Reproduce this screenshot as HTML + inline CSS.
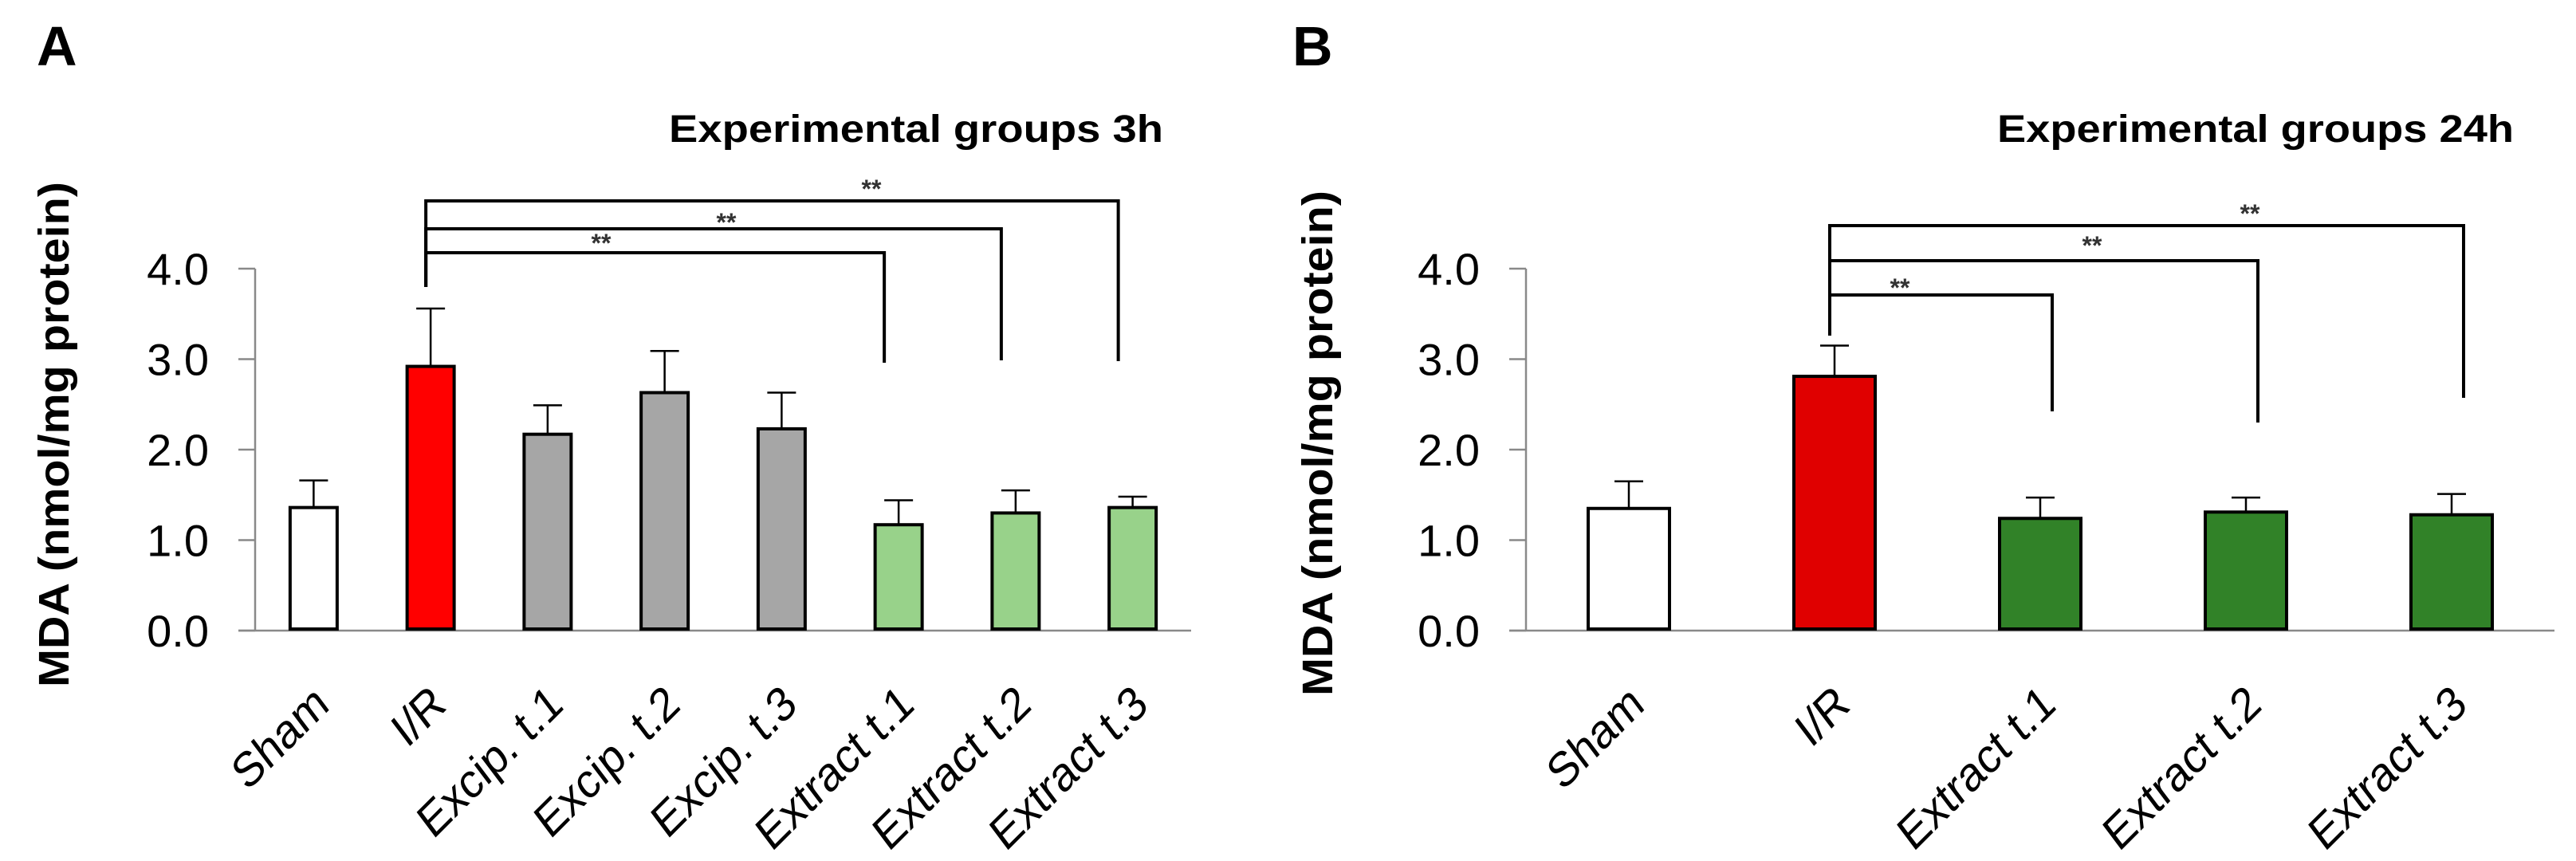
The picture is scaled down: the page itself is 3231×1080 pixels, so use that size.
<!DOCTYPE html>
<html><head><meta charset="utf-8">
<style>
html,body{margin:0;padding:0;background:#fff;}
svg{display:block;}
text{font-family:"Liberation Sans",Arial,sans-serif;}
</style></head>
<body>
<svg id="fig" width="3231" height="1080" viewBox="0 0 3231 1080" xmlns="http://www.w3.org/2000/svg">
<rect width="3231" height="1080" fill="#fff"/>
</svg>
<script>
// Panel A data
const catsA = ["Sham","I/R","Excip. t.1","Excip. t.2","Excip. t.3","Extract t.1","Extract t.2","Extract t.3"];
const valsA = [1.36,2.92,2.17,2.63,2.23,1.17,1.30,1.36];
const errsA = [0.30,0.64,0.32,0.46,0.40,0.27,0.25,0.12];
const colsA = ["#ffffff","#ff0000","#a6a6a6","#a6a6a6","#a6a6a6","#98d28a","#98d28a","#98d28a"];
// Panel B data
const catsB = ["Sham","I/R","Extract t.1","Extract t.2","Extract t.3"];
const valsB = [1.35,2.81,1.24,1.31,1.28];
const errsB = [0.30,0.34,0.23,0.16,0.23];
const colsB = ["#ffffff","#e00000","#318228","#318228","#318228"];
const ticks = [0,1,2,3,4];
const tickLabels = ["0.0","1.0","2.0","3.0","4.0"];
// significance brackets: [from index, to index]
const sigA = [[1,7],[1,6],[1,5]];
const sigB = [[1,4],[1,3],[1,2]];

const NS="http://www.w3.org/2000/svg";
const svg=document.getElementById('fig');
function mk(tag,attrs,parent){const e=document.createElementNS(NS,tag);for(const k in attrs)e.setAttribute(k,attrs[k]);(parent||svg).appendChild(e);return e;}

function panel(cfg){
  const g=mk('g',{});
  
  
  const n=cfg.cats.length, bw=(cfg.x1-cfg.x0)/n;
  const y=v=>cfg.y0-(v*cfg.unit);
  const xc=i=>cfg.x0+bw*(i+0.5);
  const L=mk('text',{x:cfg.letterX,y:82,'font-size':70,'font-weight':'bold',fill:'#000'},g);
  L.textContent=cfg.letter;
  
  
  const T=mk('text',{x:cfg.titleX,y:178,'font-size':48,'font-weight':'bold',fill:'#000',textLength:cfg.titleW,lengthAdjust:'spacingAndGlyphs'},g);
  T.textContent=cfg.title;
  
  
  const yt=mk('text',{x:0,y:0,'font-size':54,'font-weight':'bold','text-anchor':'middle',fill:'#000',transform:`translate(${cfg.ytX},${cfg.ytY}) rotate(-90)`,textLength:cfg.ytW,lengthAdjust:'spacingAndGlyphs'},g);
  yt.textContent="MDA (nmol/mg protein)";
  
  
  const ax=mk('line',{x1:cfg.x0,y1:y(4),x2:cfg.x0,y2:cfg.y0,stroke:'#898989','stroke-width':2.5},g);
  
  
  const xx=mk('line',{x1:cfg.x0-21,y1:cfg.y0,x2:cfg.x1,y2:cfg.y0,stroke:'#898989','stroke-width':2.5},g);
  
  
  ticks.forEach((t,i)=>{
    const tl=mk('line',{x1:cfg.x0-21,y1:y(t),x2:cfg.x0,y2:y(t),stroke:'#898989','stroke-width':2.5},g);
    
    
    const tx=mk('text',{x:cfg.x0-58,y:y(t)+20,'font-size':56,'text-anchor':'end',fill:'#000'},g);
    tx.textContent=tickLabels[i];
    
    
  });
  cfg.cats.forEach((c,i)=>{
    const cx=xc(i), top=y(cfg.vals[i]);
    const e=mk('line',{x1:cx,y1:top,x2:cx,y2:y(cfg.vals[i]+cfg.errs[i]),stroke:'#000','stroke-width':2.5},g);
    
    
    const cap=mk('line',{x1:cx-18,y1:y(cfg.vals[i]+cfg.errs[i]),x2:cx+18,y2:y(cfg.vals[i]+cfg.errs[i]),stroke:'#000','stroke-width':2.5},g);
    
    
    const b=mk('rect',{x:cx-cfg.barW/2,y:top,width:cfg.barW,height:cfg.y0-2-top,fill:cfg.cols[i],stroke:'#000','stroke-width':4},g);
    
    
    const lx=cx+22, ly=888;
    const lt=mk('text',{x:0,y:0,'font-size':57,'text-anchor':'end',fill:'#000',transform:`translate(${lx},${ly}) rotate(-45) skewX(-8)`},g);
    lt.textContent=c;
    
    
  });
  cfg.sig.forEach((s,k)=>{
    const by=cfg.brY[k], x1=xc(s[0])-6, x2=xc(s[1])-cfg.brOff;
    const p=mk('path',{d:`M${x1},${cfg.brLeftBottom} L${x1},${by} L${x2},${by} L${x2},${cfg.brBottom[k]}`,fill:'none',stroke:'#000','stroke-width':4},g);
    
    
    const st=mk('text',{x:cfg.starX[k],y:cfg.starY[k]+16,'font-size':32,'font-weight':'bold','text-anchor':'middle',fill:'#333'},g);
    st.textContent="**";
    
    
  });
}

panel({name:'panel-a',letter:'A',letterX:46,title:'Experimental groups 3h',titleX:839,titleW:620,
  ytX:86,ytY:545,ytW:634,x0:320,x1:1494,y0:791,unit:113.5,barW:59,
  cats:catsA,vals:valsA,errs:errsA,cols:colsA,sig:sigA,
  brY:[252,287,317],brBottom:[453,452,455],brLeftBottom:360,brOff:18,
  starX:[1093,911,754],starY:[232,274,300]});
panel({name:'panel-b',letter:'B',letterX:1621,title:'Experimental groups 24h',titleX:2505,titleW:648,
  ytX:1671,ytY:556,ytW:634,x0:1914,x1:3204,y0:791,unit:113.5,barW:102,
  cats:catsB,vals:valsB,errs:errsB,cols:colsB,sig:sigB,
  brY:[283,327,370],brBottom:[499,530,516],brLeftBottom:421,brOff:-15,
  starX:[2822,2624,2383],starY:[263,303,356]});
</script>
</body></html>
